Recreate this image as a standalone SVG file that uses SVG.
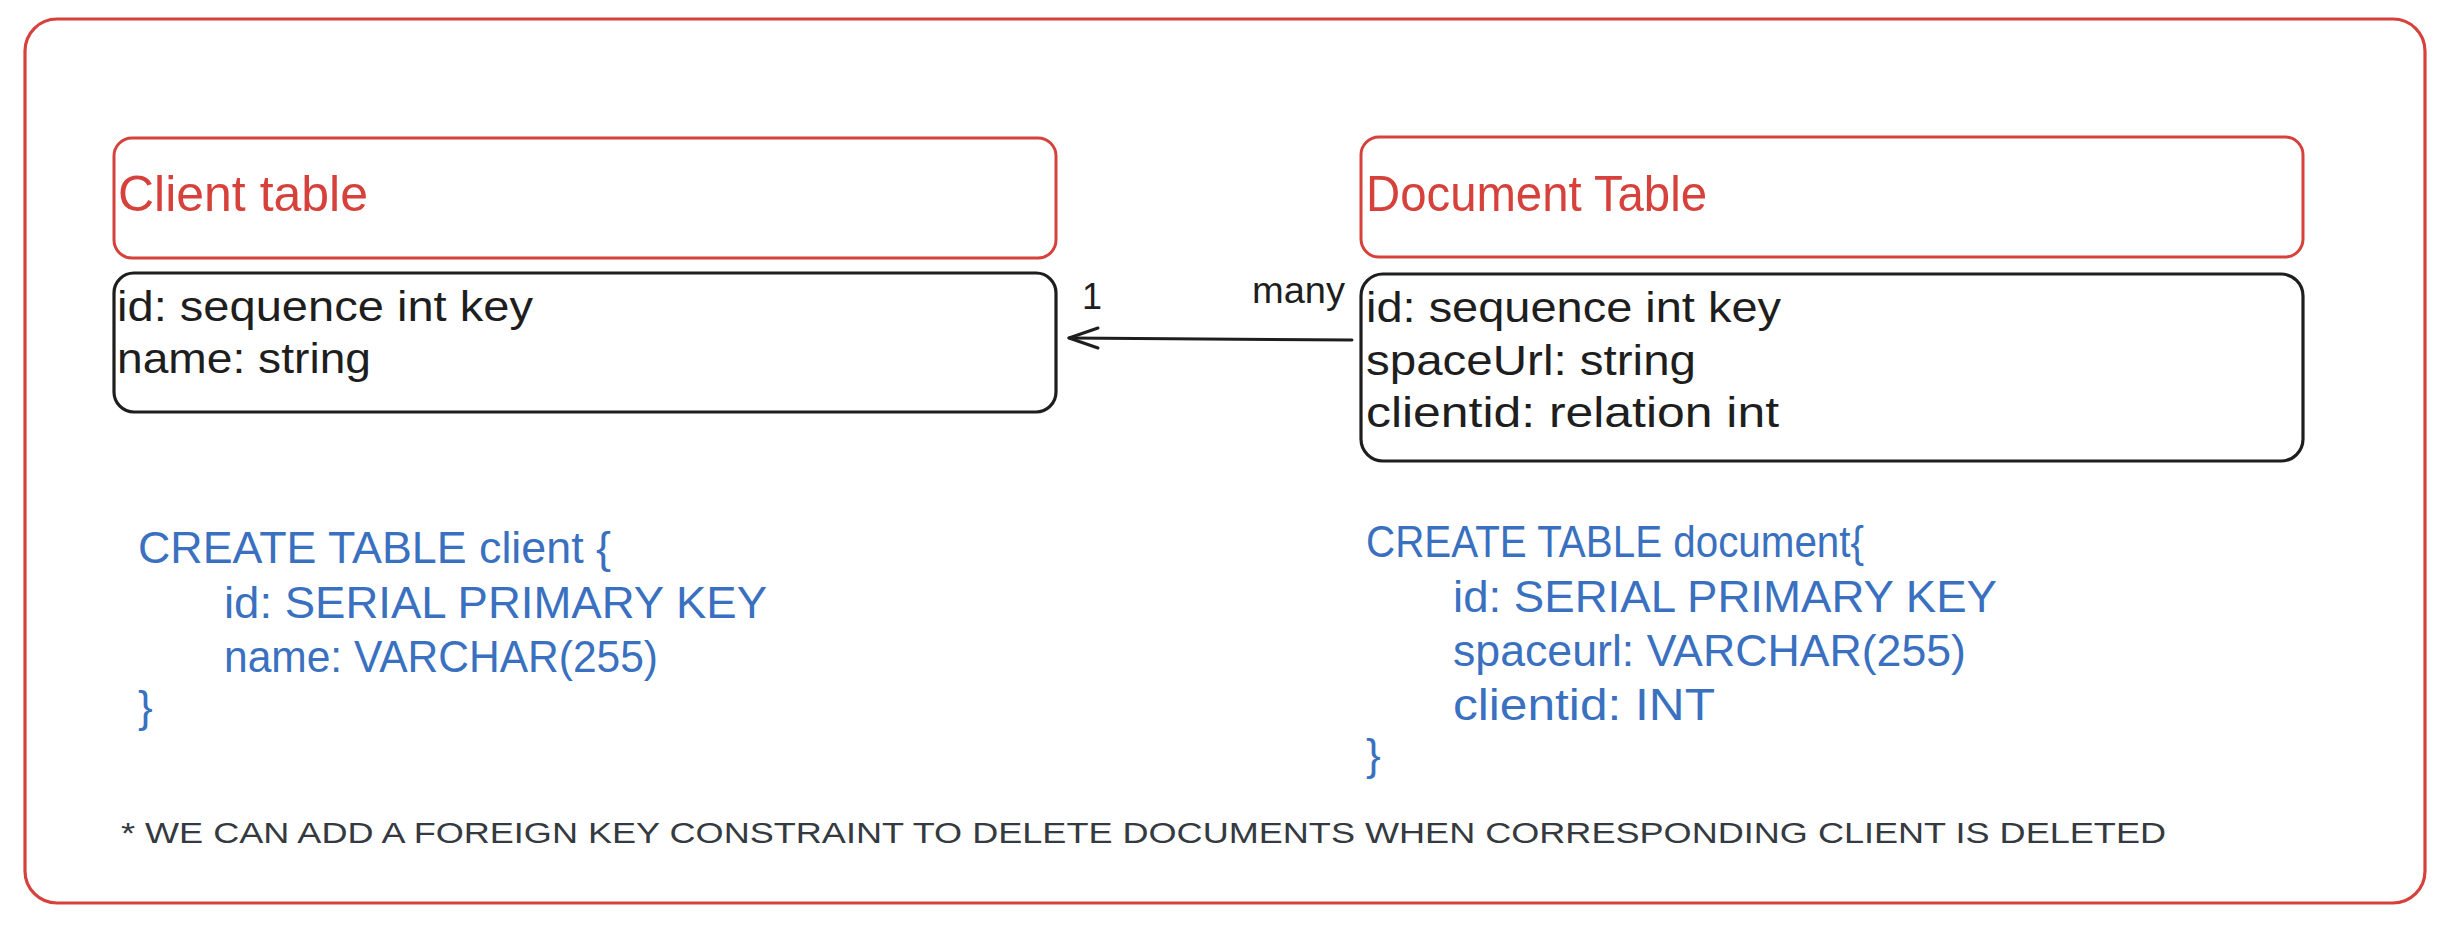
<svg xmlns="http://www.w3.org/2000/svg" width="2456" height="932" viewBox="0 0 2456 932">
<style>
  .frame{fill:none;stroke:#d6423b;stroke-width:3.2}
  .hdr{fill:none;stroke:#d6423b;stroke-width:3}
  .fld{fill:none;stroke:#1e1e1e;stroke-width:3.2}
  .t{font-family:"Liberation Sans","DejaVu Sans",sans-serif}
  .red{fill:#d6423b;font-size:50px}
  .blk{fill:#1e1e1e;font-size:42px}
  .blue{fill:#3a70c0;font-size:44px}
  .lbl{fill:#1e1e1e;font-size:36px}
  .note{fill:#343a40;font-size:30px}
  .conn{fill:none;stroke:#1e1e1e;stroke-width:3;stroke-linecap:round;stroke-linejoin:round}
</style>
<rect width="2456" height="932" fill="#ffffff"/>
<g id="frame">
  <rect class="frame" x="25" y="19" width="2400" height="884" rx="32"/>
</g>
<g id="client-header">
  <rect class="hdr" x="114" y="138" width="942" height="120" rx="18"/>
  <text class="t red" x="118" y="211" textLength="250" lengthAdjust="spacingAndGlyphs">Client table</text>
</g>
<g id="client-fields">
  <rect class="fld" x="114" y="273" width="942" height="139" rx="20"/>
  <text class="t blk" x="117" y="321" textLength="416" lengthAdjust="spacingAndGlyphs">id: sequence int key</text>
  <text class="t blk" x="117" y="373" textLength="254" lengthAdjust="spacingAndGlyphs">name: string</text>
</g>
<g id="document-header">
  <rect class="hdr" x="1361" y="137" width="942" height="120" rx="18"/>
  <text class="t red" x="1366" y="211" textLength="341" lengthAdjust="spacingAndGlyphs">Document Table</text>
</g>
<g id="document-fields">
  <rect class="fld" x="1361" y="274" width="942" height="187" rx="22"/>
  <text class="t blk" x="1366" y="322" textLength="415" lengthAdjust="spacingAndGlyphs">id: sequence int key</text>
  <text class="t blk" x="1366" y="375" textLength="330" lengthAdjust="spacingAndGlyphs">spaceUrl: string</text>
  <text class="t blk" x="1366" y="427" textLength="413" lengthAdjust="spacingAndGlyphs">clientid: relation int</text>
</g>
<g id="connectors">
  <path class="conn" d="M1352 340 L1069 338"/>
  <path class="conn" d="M1098 328 L1069 338 L1098 348"/>
  <text class="t lbl" x="1082" y="309">1</text>
  <text class="t lbl" x="1252" y="303" textLength="93" lengthAdjust="spacingAndGlyphs">many</text>
</g>
<g id="client-sql">
  <text class="t blue" x="138" y="563" textLength="473" lengthAdjust="spacingAndGlyphs">CREATE TABLE client {</text>
  <text class="t blue" x="224" y="618" textLength="543" lengthAdjust="spacingAndGlyphs">id: SERIAL PRIMARY KEY</text>
  <text class="t blue" x="224" y="672" textLength="434" lengthAdjust="spacingAndGlyphs">name: VARCHAR(255)</text>
  <text class="t blue" x="138" y="722">}</text>
</g>
<g id="document-sql">
  <text class="t blue" x="1366" y="557" textLength="498" lengthAdjust="spacingAndGlyphs">CREATE TABLE document{</text>
  <text class="t blue" x="1453" y="612" textLength="544" lengthAdjust="spacingAndGlyphs">id: SERIAL PRIMARY KEY</text>
  <text class="t blue" x="1453" y="666" textLength="513" lengthAdjust="spacingAndGlyphs">spaceurl: VARCHAR(255)</text>
  <text class="t blue" x="1453" y="720" textLength="262" lengthAdjust="spacingAndGlyphs">clientid: INT</text>
  <text class="t blue" x="1366" y="770">}</text>
</g>
<g id="note">
  <text class="t note" x="121" y="843" textLength="2045" lengthAdjust="spacingAndGlyphs">* WE CAN ADD A FOREIGN KEY CONSTRAINT TO DELETE DOCUMENTS WHEN CORRESPONDING CLIENT IS DELETED</text>
</g>
</svg>
